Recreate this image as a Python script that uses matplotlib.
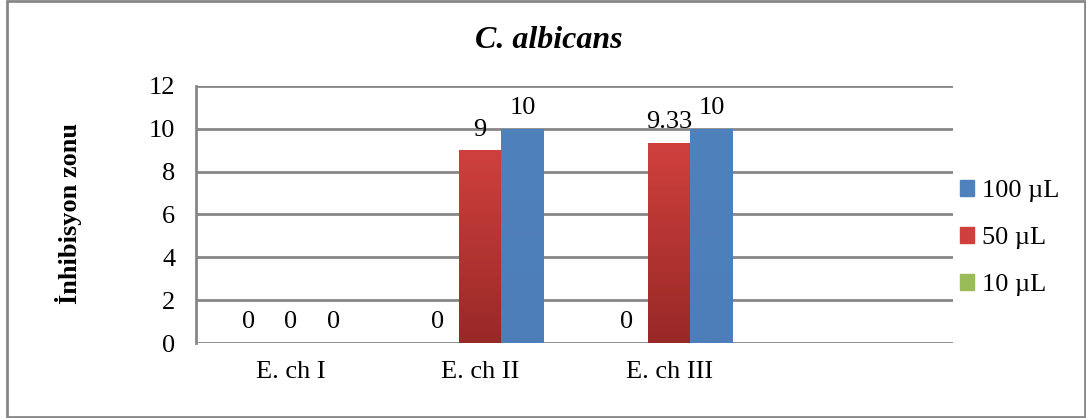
import matplotlib
matplotlib.use('Agg')
import matplotlib.pyplot as plt
import numpy as np
from matplotlib.patches import Rectangle
from matplotlib.colors import LinearSegmentedColormap

plt.rcParams['font.family'] = ['Liberation Serif', 'DejaVu Serif']

# inhibition zone per extract and volume
categories = ['E. ch I', 'E. ch II', 'E. ch III']
series = ['10 µL', '50 µL', '100 µL']
vals_10 = [0, 0, 0]
vals_50 = [0, 9, 9.33]
vals_100 = [0, 10, 10]
yticks = [0, 2, 4, 6, 8, 10, 12]

# (top colour, bottom colour) for each series
grads = [('#9BBB59', '#76923C'), ('#CF403D', '#982927'), ('#4F81BD', '#4D7EBA')]

fig = plt.figure(figsize=(10.86, 4.18), dpi=100)
ax = fig.add_axes([0.1805, 0.1794, 0.697, 0.6149])

x = np.arange(len(categories))
w = 0.225
for i, vals in enumerate([vals_10, vals_50, vals_100]):
    pos = x + (i - 1) * w
    bars = ax.bar(pos, vals, w, color=grads[i][0], zorder=3, linewidth=0)
    cmap = LinearSegmentedColormap.from_list('g%d' % i, [grads[i][1], grads[i][0]])
    for b, v in zip(bars, vals):
        if v > 0:
            grad = np.linspace(0, 1, 100).reshape(-1, 1)
            im = ax.imshow(grad, cmap=cmap, origin='lower', aspect='auto',
                           extent=[b.get_x(), b.get_x() + w, 0, v], zorder=4)
            im.set_clip_path(b)
        ax.annotate('{:g}'.format(v), (b.get_x() + w / 2, v), xytext=(0, 7),
                    textcoords='offset points', ha='center', va='bottom',
                    fontsize=19, zorder=5)

ax.set_xlim(-0.5, 3.5)
ax.set_ylim(0, 12)
ax.set_yticks(yticks)
ax.set_xticks(x)
ax.set_xticklabels(categories)
ax.tick_params(axis='both', length=0, labelsize=19)
ax.tick_params(axis='y', pad=15)
ax.tick_params(axis='x', pad=13)
ax.grid(axis='y', color='#878787', linewidth=2, zorder=0)
for s in ['top', 'right', 'bottom']:
    ax.spines[s].set_visible(False)
ax.spines['left'].set_color('#878787')
ax.spines['left'].set_linewidth(2)

handles = [Rectangle((0, 0), 1, 1, color=grads[i][0]) for i in [2, 1, 0]]
labels = [series[i] for i in [2, 1, 0]]
fig.legend(handles, labels, loc='center left', bbox_to_anchor=(0.872, 0.43),
           frameon=False, fontsize=19, handlelength=0.52, handleheight=0.52,
           handletextpad=0.3, labelspacing=0.95, borderpad=0)

fig.text(0.505, 0.902, 'C. albicans', ha='center', va='center',
         fontsize=23, fontweight='bold', fontstyle='italic')
fig.text(0.063, 0.49, 'İnhibisyon zonu', ha='center', va='center',
         rotation=90, fontsize=19, fontweight='bold')

fig.patches.append(Rectangle((7 / 1086, 1 / 418), 1078 / 1086, 416 / 418,
                             transform=fig.transFigure, fill=False,
                             edgecolor='#878787', linewidth=2))

fig.savefig('out.png', dpi=100, facecolor='white')
